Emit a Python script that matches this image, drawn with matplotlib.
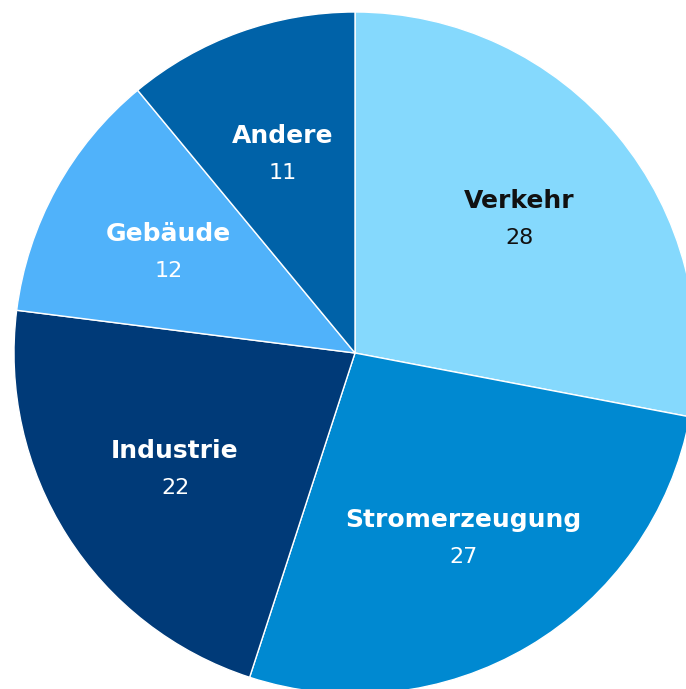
import matplotlib
matplotlib.use("Agg")
import matplotlib.pyplot as plt
import numpy as np

categories = ["Verkehr", "Stromerzeugung", "Industrie", "Gebäude", "Andere"]
values = [28, 27, 22, 12, 11]
colors = ["#85D9FD", "#0089D1", "#003A78", "#50B2FA", "#0062A8"]
text_colors = ["#111111", "white", "white", "white", "white"]

plt.rcParams['font.family'] = ['DejaVu Sans']

W, H = 686, 689
cx, cy, R = 355, 353, 341
fig = plt.figure(figsize=(W / 100, H / 100), dpi=100)
ax = fig.add_axes([0, 0, 1, 1])
ax.axis('off')

wedges, _ = ax.pie(values, colors=colors, startangle=90, counterclock=False,
                   radius=1.0, center=(0, 0),
                   wedgeprops=dict(edgecolor="white", linewidth=1.0))
ax.set_xlim(-cx / R, (W - cx) / R)
ax.set_ylim(-(H - cy) / R, cy / R)
ax.set_aspect('auto')

total = sum(values)
cum = 0
for cat, v, tc in zip(categories, values, text_colors):
    mid = (cum + v / 2) / total * 360
    cum += v
    ang = np.deg2rad(90 - mid)
    r = 0.625
    x, y = r * np.cos(ang), r * np.sin(ang)
    ax.text(x, y + 16 / R, cat, ha="center", va="center", color=tc,
            fontsize=18, fontweight="bold")
    ax.text(x, y - 21 / R, str(v), ha="center", va="center", color=tc,
            fontsize=16)

fig.savefig("out.png", dpi=100)
